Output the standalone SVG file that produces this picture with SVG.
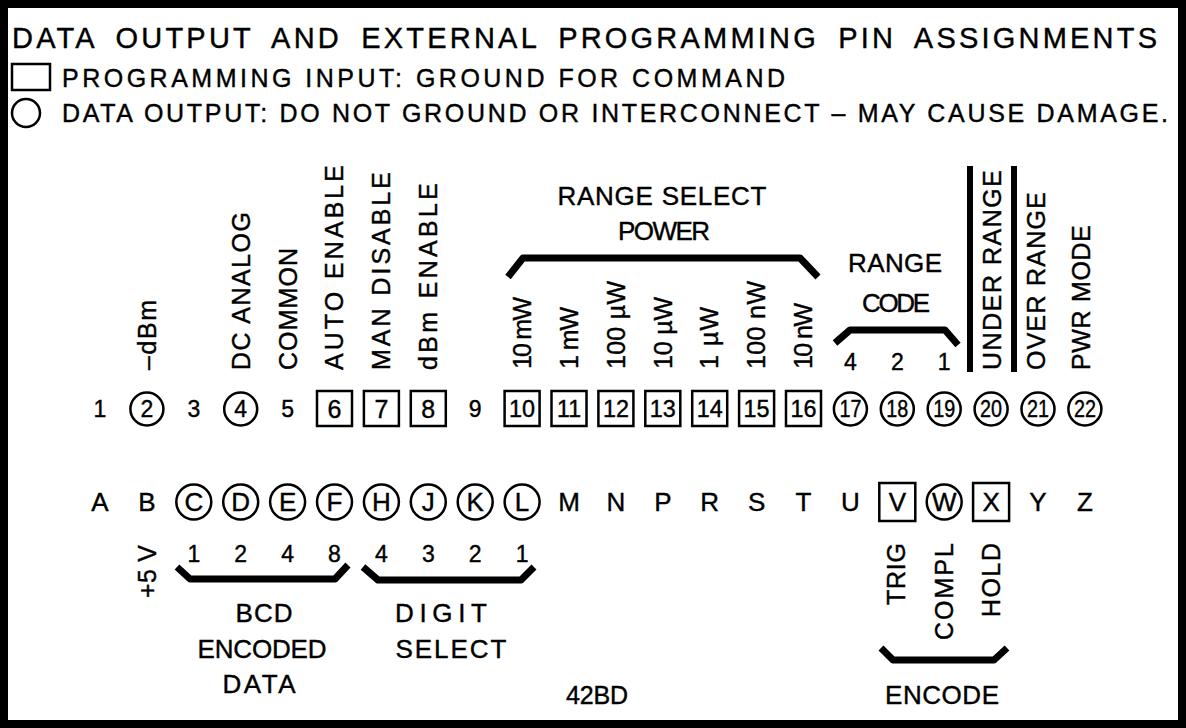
<svg xmlns="http://www.w3.org/2000/svg" width="1186" height="728" viewBox="0 0 1186 728">
<style>
text{font-family:"Liberation Sans",Arial,sans-serif;fill:#000;stroke:#000;stroke-width:0.4}
.ttl{font-size:29px;letter-spacing:3px;word-spacing:8px}
.leg{font-size:25px}
.lbl{font-size:25px}
.num{font-size:23px;text-anchor:middle}
.n1{font-size:25px;text-anchor:middle}
.n2{font-size:23px;text-anchor:middle}
.let{font-size:26px;text-anchor:middle}
.cap{font-size:26px;text-anchor:middle}
.pbox{fill:none;stroke:#000;stroke-width:2.5}
.brace{fill:none;stroke:#000;stroke-width:7;stroke-linejoin:round}
.bar{fill:#000}
</style>
<rect x="4" y="4" width="1178" height="720" fill="#fff" stroke="#000" stroke-width="8"/>

<g id="header">
<text class="ttl" x="12" y="48" textLength="1148">DATA OUTPUT AND EXTERNAL PROGRAMMING PIN ASSIGNMENTS</text>
<rect class="pbox" x="12" y="64" width="38" height="26"/>
<text class="leg" x="62" y="87" textLength="723">PROGRAMMING INPUT: GROUND FOR COMMAND</text>
<circle class="pbox" cx="26" cy="113" r="14"/>
<text class="leg" x="62" y="122" textLength="1106">DATA OUTPUT: DO NOT GROUND OR INTERCONNECT – MAY CAUSE DAMAGE.</text>
</g>

<g id="pin-labels">
<text class="lbl" transform="translate(156,370) rotate(-90)" textLength="70">–dBm</text>
<text class="lbl" transform="translate(250,370) rotate(-90)" textLength="158">DC ANALOG</text>
<text class="lbl" transform="translate(297,370) rotate(-90)" textLength="122">COMMON</text>
<text class="lbl" transform="translate(343,370) rotate(-90)" textLength="205">AUTO ENABLE</text>
<text class="lbl" transform="translate(390,370) rotate(-90)" textLength="198">MAN DISABLE</text>
<text class="lbl" transform="translate(437,370) rotate(-90)" textLength="187">dBm ENABLE</text>
<text class="lbl" transform="translate(531,369) rotate(-90)" textLength="72">10 mW</text>
<text class="lbl" transform="translate(578,369) rotate(-90)" textLength="62">1 mW</text>
<text class="lbl" transform="translate(625,369) rotate(-90)" textLength="88">100 µW</text>
<text class="lbl" transform="translate(672,369) rotate(-90)" textLength="72">10 µW</text>
<text class="lbl" transform="translate(718,369) rotate(-90)" textLength="62">1 µW</text>
<text class="lbl" transform="translate(765,369) rotate(-90)" textLength="88">100 nW</text>
<text class="lbl" transform="translate(812,369) rotate(-90)" textLength="66">10 nW</text>
<text class="cap" x="662" y="205" textLength="209">RANGE SELECT</text>
<text class="cap" x="664" y="240" textLength="92">POWER</text>
<text class="cap" x="895" y="272" textLength="94">RANGE</text>
<text class="cap" x="896" y="312" textLength="68">CODE</text>
<text class="num" x="850.4" y="370">4</text>
<text class="num" x="897.3" y="370">2</text>
<text class="num" x="944.2" y="370">1</text>
<rect class="bar" x="967" y="166" width="6" height="206"/>
<rect class="bar" x="1011" y="166" width="6" height="206"/>
<text class="lbl" transform="translate(1001,370) rotate(-90)" textLength="200">UNDER RANGE</text>
<text class="lbl" transform="translate(1045,370) rotate(-90)" textLength="178">OVER RANGE</text>
<text class="lbl" transform="translate(1090,370) rotate(-90)" textLength="145">PWR MODE</text>
</g>

<g id="connectors">
<polyline class="brace" points="508,277 523,258 800,258 818,277"/>
<polyline class="brace" points="835,343 850,330 945,330 958,345"/>
<polyline class="brace" points="177,567 190,579 335,579 348,565"/>
<polyline class="brace" points="363,567 378,580 521,580 534,567"/>
<polyline class="brace" points="881,648 893,660 994,660 1007,648"/>
</g>

<g id="pin-row">
<text class="num" x="100" y="417">1</text>
<circle class="pbox" cx="146.9" cy="409" r="16.5"/><text class="num" x="146.9" y="417">2</text>
<text class="num" x="193.8" y="417">3</text>
<circle class="pbox" cx="240.7" cy="409" r="16.5"/><text class="num" x="240.7" y="417">4</text>
<text class="num" x="287.6" y="417">5</text>
<rect class="pbox" x="317" y="391" width="35" height="35"/><text class="n1" x="334.5" y="417.5">6</text>
<rect class="pbox" x="363.9" y="391" width="35" height="35"/><text class="n1" x="381.4" y="417.5">7</text>
<rect class="pbox" x="410.8" y="391" width="35" height="35"/><text class="n1" x="428.3" y="417.5">8</text>
<text class="num" x="475.2" y="417">9</text>
<rect class="pbox" x="504.6" y="391" width="35" height="35"/><text class="n2" x="522.1" y="417" textLength="26" lengthAdjust="spacingAndGlyphs">10</text>
<rect class="pbox" x="551.5" y="391" width="35" height="35"/><text class="n2" x="569" y="417" textLength="24" lengthAdjust="spacingAndGlyphs">11</text>
<rect class="pbox" x="598.4" y="391" width="35" height="35"/><text class="n2" x="615.9" y="417" textLength="26" lengthAdjust="spacingAndGlyphs">12</text>
<rect class="pbox" x="645.3" y="391" width="35" height="35"/><text class="n2" x="662.8" y="417" textLength="26" lengthAdjust="spacingAndGlyphs">13</text>
<rect class="pbox" x="692.2" y="391" width="35" height="35"/><text class="n2" x="709.7" y="417" textLength="26" lengthAdjust="spacingAndGlyphs">14</text>
<rect class="pbox" x="739.1" y="391" width="35" height="35"/><text class="n2" x="756.6" y="417" textLength="26" lengthAdjust="spacingAndGlyphs">15</text>
<rect class="pbox" x="786" y="391" width="35" height="35"/><text class="n2" x="803.5" y="417" textLength="26" lengthAdjust="spacingAndGlyphs">16</text>
<circle class="pbox" cx="850.4" cy="409" r="16.5"/><text class="n2" x="850.4" y="417" textLength="22" lengthAdjust="spacingAndGlyphs">17</text>
<circle class="pbox" cx="897.3" cy="409" r="16.5"/><text class="n2" x="897.3" y="417" textLength="22" lengthAdjust="spacingAndGlyphs">18</text>
<circle class="pbox" cx="944.2" cy="409" r="16.5"/><text class="n2" x="944.2" y="417" textLength="22" lengthAdjust="spacingAndGlyphs">19</text>
<circle class="pbox" cx="991.1" cy="409" r="16.5"/><text class="n2" x="991.1" y="417" textLength="22" lengthAdjust="spacingAndGlyphs">20</text>
<circle class="pbox" cx="1038" cy="409" r="16.5"/><text class="n2" x="1038" y="417" textLength="22" lengthAdjust="spacingAndGlyphs">21</text>
<circle class="pbox" cx="1084.9" cy="409" r="16.5"/><text class="n2" x="1084.9" y="417" textLength="22" lengthAdjust="spacingAndGlyphs">22</text>
</g>

<g id="letter-row">
<text class="let" x="100" y="511">A</text>
<text class="let" x="146.9" y="511">B</text>
<circle class="pbox" cx="193.8" cy="502" r="17.5"/><text class="let" x="193.8" y="511">C</text>
<circle class="pbox" cx="240.7" cy="502" r="17.5"/><text class="let" x="240.7" y="511">D</text>
<circle class="pbox" cx="287.6" cy="502" r="17.5"/><text class="let" x="287.6" y="511">E</text>
<circle class="pbox" cx="334.5" cy="502" r="17.5"/><text class="let" x="334.5" y="511">F</text>
<circle class="pbox" cx="381.4" cy="502" r="17.5"/><text class="let" x="381.4" y="511">H</text>
<circle class="pbox" cx="428.3" cy="502" r="17.5"/><text class="let" x="428.3" y="511">J</text>
<circle class="pbox" cx="475.2" cy="502" r="17.5"/><text class="let" x="475.2" y="511">K</text>
<circle class="pbox" cx="522.1" cy="502" r="17.5"/><text class="let" x="522.1" y="511">L</text>
<text class="let" x="569" y="511">M</text>
<text class="let" x="615.9" y="511">N</text>
<text class="let" x="662.8" y="511">P</text>
<text class="let" x="709.7" y="511">R</text>
<text class="let" x="756.6" y="511">S</text>
<text class="let" x="803.5" y="511">T</text>
<text class="let" x="850.4" y="511">U</text>
<rect class="pbox" x="879.3" y="483" width="36" height="38"/><text class="let" x="897.3" y="511">V</text>
<circle class="pbox" cx="944.2" cy="502" r="17.5"/><text class="let" x="944.2" y="511">W</text>
<rect class="pbox" x="973.1" y="483" width="36" height="38"/><text class="let" x="991.1" y="511">X</text>
<text class="let" x="1038" y="511">Y</text>
<text class="let" x="1084.9" y="511">Z</text>
</g>

<g id="letter-labels">
<text class="lbl" transform="translate(156,598) rotate(-90)" textLength="53">+5 V</text>
<text class="num" x="193.8" y="562">1</text>
<text class="num" x="240.7" y="562">2</text>
<text class="num" x="287.6" y="562">4</text>
<text class="num" x="334.5" y="562">8</text>
<text class="num" x="381.4" y="562">4</text>
<text class="num" x="428.3" y="562">3</text>
<text class="num" x="475.2" y="562">2</text>
<text class="num" x="522.1" y="562">1</text>
<text class="cap" x="264" y="622" textLength="57">BCD</text>
<text class="cap" x="262" y="658" textLength="129">ENCODED</text>
<text class="cap" x="259" y="693" textLength="73">DATA</text>
<text class="cap" x="441" y="622" textLength="92">DIGIT</text>
<text class="cap" x="451" y="658" textLength="111">SELECT</text>
<text class="lbl" x="566" y="704" textLength="62">42BD</text>
<text class="lbl" transform="translate(905,543) rotate(-90)" text-anchor="end" textLength="62">TRIG</text>
<text class="lbl" transform="translate(953,543) rotate(-90)" text-anchor="end" textLength="97">COMPL</text>
<text class="lbl" transform="translate(1000,543) rotate(-90)" text-anchor="end" textLength="74">HOLD</text>
<text class="cap" x="942" y="704" textLength="114">ENCODE</text>
</g>
</svg>
